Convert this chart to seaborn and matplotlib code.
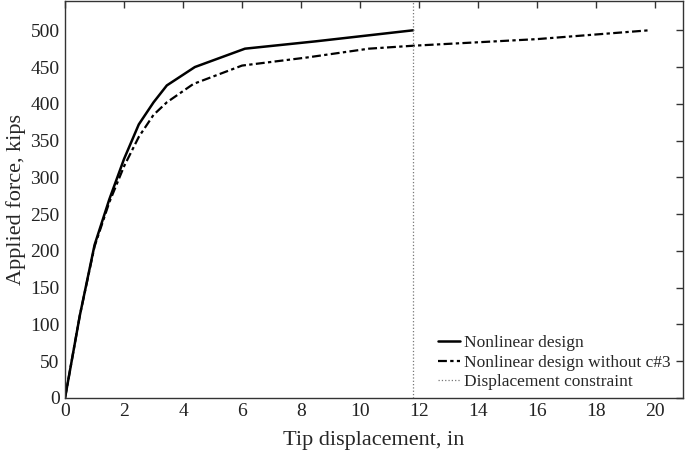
import numpy as np
import pandas as pd
import seaborn as sns
import matplotlib
matplotlib.use("Agg")
import matplotlib.pyplot as plt

# Data
nl_x = [0.0, 0.5, 1.0, 1.5, 2.0, 2.5, 3.0, 3.45, 4.4, 6.1, 8.5, 11.8]
nl_y = [0.0, 112.0, 208.0, 270.0, 325.0, 372.0, 402.0, 425.0, 450.0, 475.0, 485.0, 500.0]
wo_x = [0.0, 0.5, 1.0, 1.5, 2.0, 2.5, 3.0, 3.45, 4.35, 6.0, 8.2, 10.3, 11.8, 16.0, 19.8]
wo_y = [0.0, 112.0, 206.0, 266.0, 315.0, 355.0, 385.0, 402.0, 427.0, 452.0, 463.0, 475.0, 479.0, 488.0, 500.0]
constraint_x = 11.8

x_ticks = [0, 2, 4, 6, 8, 10, 12, 14, 16, 18, 20]
y_ticks = [0, 50, 100, 150, 200, 250, 300, 350, 400, 450, 500]

sns.set_theme(style="white")
plt.rcParams["font.family"] = ["Liberation Serif", "DejaVu Serif"]

fig = plt.figure(figsize=(6.85, 4.5), dpi=100)
ax = fig.add_axes([0.095, 0.116, 0.902, 0.882])

df1 = pd.DataFrame({"x": nl_x, "y": nl_y})
df2 = pd.DataFrame({"x": wo_x, "y": wo_y})
sns.lineplot(data=df1, x="x", y="y", ax=ax, color="black", lw=1.8,
             label="Nonlinear design", sort=False)
sns.lineplot(data=df2, x="x", y="y", ax=ax, color="black", lw=1.6,
             linestyle=(0, (4, 1.5, 1.5, 1.5)), label="Nonlinear design without c#3", sort=False)
ax.axvline(constraint_x, color="#777777", lw=0.9, linestyle=":",
           label="Displacement constraint")

ax.set_xlim(0, 20.95)
ax.set_ylim(0, 540)
ax.set_xticks(x_ticks)
ax.set_yticks(y_ticks)
ax.tick_params(direction="in", top=True, right=True, length=5, width=1,
               labelsize=14, colors="#333333", labelcolor="#222222", pad=4)
for s in ax.spines.values():
    s.set_color("#333333")
    s.set_linewidth(1.0)
ax.set_xlabel("Tip displacement, in", fontsize=16, labelpad=8)
ax.set_ylabel("Applied force, kips", fontsize=16, labelpad=3)

leg = ax.legend(loc="lower right", bbox_to_anchor=(0.992, 0.0), frameon=False,
                fontsize=12.5, handlelength=1.3, handletextpad=0.2,
                labelspacing=0.18, borderaxespad=0.05)
fig.savefig("out.png", dpi=100)
